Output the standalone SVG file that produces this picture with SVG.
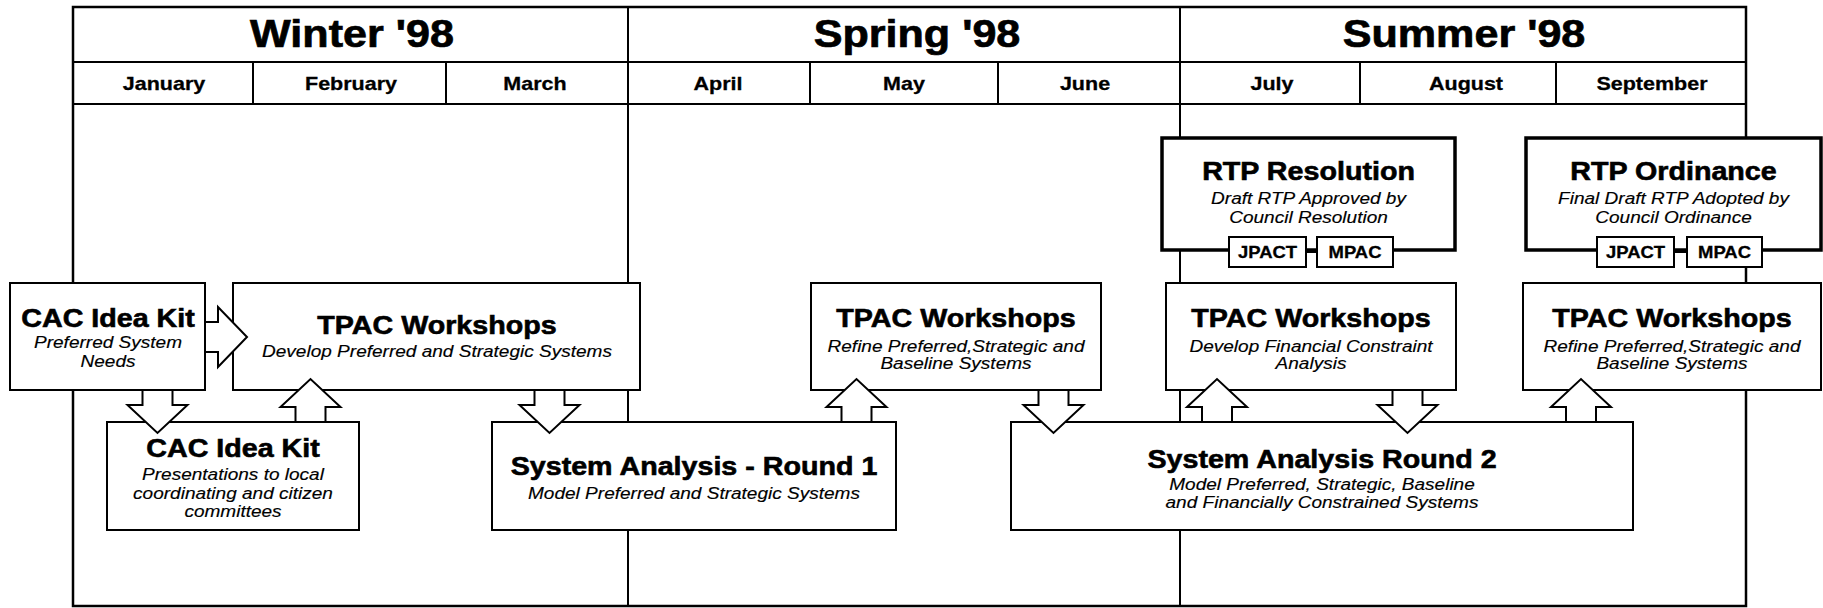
<svg xmlns="http://www.w3.org/2000/svg" width="1823" height="608" viewBox="0 0 1823 608">
<style>
text{font-family:"Liberation Sans",Arial,Helvetica,sans-serif;fill:#000;text-anchor:middle}
.season{font-size:38.5px;font-weight:bold;stroke:#000;stroke-width:0.7}
.month{font-size:19.2px;font-weight:bold;stroke:#000;stroke-width:0.3}
.title{font-size:25.6px;font-weight:bold;stroke:#000;stroke-width:0.6}
.sub{font-size:17px;font-style:italic;stroke:#000;stroke-width:0.15}
.tag{font-size:16.5px;font-weight:bold;stroke:#000;stroke-width:0.3}
.box{fill:#fff;stroke:#000;stroke-width:2}
.rtp{fill:#fff;stroke:#000;stroke-width:3.5}
.frame{fill:none;stroke:#000;stroke-width:2.5}
.line{stroke:#000;stroke-width:2;fill:none}
.arrow{fill:#fff;stroke:#000;stroke-width:2;stroke-linejoin:miter}
</style>
<rect x="0" y="0" width="1823" height="608" fill="#fff"/>
<g id="calendar">
<rect class="frame" x="73" y="7" width="1673" height="599"/>
<path class="line" d="M73,62H1746M73,104H1746M628,7V606M1180,7V606M253,62V104M446,62V104M810,62V104M998,62V104M1360,62V104M1556,62V104"/>
<g transform="translate(352 0) scale(1.12 1)"><text class="season" y="47">Winter '98</text></g>
<g transform="translate(917 0) scale(1.12 1)"><text class="season" y="47">Spring '98</text></g>
<g transform="translate(1464 0) scale(1.12 1)"><text class="season" y="47">Summer '98</text></g>
<g transform="translate(164 0) scale(1.12 1)"><text class="month" y="90">January</text></g>
<g transform="translate(351 0) scale(1.12 1)"><text class="month" y="90">February</text></g>
<g transform="translate(535 0) scale(1.12 1)"><text class="month" y="90">March</text></g>
<g transform="translate(718 0) scale(1.12 1)"><text class="month" y="90">April</text></g>
<g transform="translate(904 0) scale(1.12 1)"><text class="month" y="90">May</text></g>
<g transform="translate(1085 0) scale(1.12 1)"><text class="month" y="90">June</text></g>
<g transform="translate(1272 0) scale(1.12 1)"><text class="month" y="90">July</text></g>
<g transform="translate(1466 0) scale(1.12 1)"><text class="month" y="90">August</text></g>
<g transform="translate(1652 0) scale(1.12 1)"><text class="month" y="90">September</text></g>
</g>
<g id="cac-kit-needs">
<rect class="box" x="10" y="283" width="195" height="107"/>
<g transform="translate(108 0) scale(1.12 1)"><text class="title" y="327">CAC Idea Kit</text><text class="sub" y="348">Preferred System</text><text class="sub" y="367">Needs</text></g>
</g>
<g id="tpac-winter">
<rect class="box" x="233" y="283" width="407" height="107"/>
<g transform="translate(437 0) scale(1.12 1)"><text class="title" y="334">TPAC Workshops</text><text class="sub" y="357">Develop Preferred and Strategic Systems</text></g>
</g>
<g id="cac-kit-presentations">
<rect class="box" x="107" y="422" width="252" height="108"/>
<g transform="translate(233 0) scale(1.12 1)"><text class="title" y="457">CAC Idea Kit</text><text class="sub" y="480">Presentations to local</text><text class="sub" y="499">coordinating and citizen</text><text class="sub" y="517">committees</text></g>
</g>
<g id="system-analysis-1">
<rect class="box" x="492" y="422" width="404" height="108"/>
<g transform="translate(694 0) scale(1.12 1)"><text class="title" y="475">System Analysis - Round 1</text><text class="sub" y="499">Model Preferred and Strategic Systems</text></g>
</g>
<g id="tpac-spring">
<rect class="box" x="811" y="283" width="290" height="107"/>
<g transform="translate(956 0) scale(1.12 1)"><text class="title" y="327">TPAC Workshops</text><text class="sub" y="352">Refine Preferred,Strategic and</text><text class="sub" y="369">Baseline Systems</text></g>
</g>
<g id="rtp-resolution">
<rect class="rtp" x="1162" y="138" width="293" height="112"/>
<g transform="translate(1308.5 0) scale(1.12 1)"><text class="title" y="180">RTP Resolution</text><text class="sub" y="204">Draft RTP Approved by</text><text class="sub" y="223">Council Resolution</text></g>
<rect class="box" x="1229" y="237" width="77" height="30"/>
<rect class="box" x="1317" y="237" width="76" height="30"/>
<g transform="translate(1267.5 0) scale(1.12 1)"><text class="tag" y="258">JPACT</text></g>
<g transform="translate(1355 0) scale(1.12 1)"><text class="tag" y="258">MPAC</text></g>
</g>
<g id="tpac-summer">
<rect class="box" x="1166" y="283" width="290" height="107"/>
<g transform="translate(1311 0) scale(1.12 1)"><text class="title" y="327">TPAC Workshops</text><text class="sub" y="352">Develop Financial Constraint</text><text class="sub" y="369">Analysis</text></g>
</g>
<g id="rtp-ordinance">
<rect class="rtp" x="1526" y="138" width="295" height="112"/>
<g transform="translate(1673.5 0) scale(1.12 1)"><text class="title" y="180">RTP Ordinance</text><text class="sub" y="204">Final Draft RTP Adopted by</text><text class="sub" y="223">Council Ordinance</text></g>
<rect class="box" x="1597" y="237" width="77" height="30"/>
<rect class="box" x="1687" y="237" width="75" height="30"/>
<g transform="translate(1635.5 0) scale(1.12 1)"><text class="tag" y="258">JPACT</text></g>
<g transform="translate(1724.5 0) scale(1.12 1)"><text class="tag" y="258">MPAC</text></g>
</g>
<g id="tpac-summer-2">
<rect class="box" x="1523" y="283" width="298" height="107"/>
<g transform="translate(1672 0) scale(1.12 1)"><text class="title" y="327">TPAC Workshops</text><text class="sub" y="352">Refine Preferred,Strategic and</text><text class="sub" y="369">Baseline Systems</text></g>
</g>
<g id="system-analysis-2">
<rect class="box" x="1011" y="422" width="622" height="108"/>
<g transform="translate(1322 0) scale(1.12 1)"><text class="title" y="468">System Analysis Round 2</text><text class="sub" y="490">Model Preferred, Strategic, Baseline</text><text class="sub" y="508">and Financially Constrained Systems</text></g>
</g>
<g id="connectors">
<path class="line" d="M1306,252H1317M1674,252H1687"/>
<path class="arrow" d="M205,322H218V307L247,337L218,367V352H205Z"/>
<path class="arrow" d="M142.5,390V405H127.5L157.5,433L187.5,405H172.5V390Z"/>
<path class="arrow" d="M534.5,390V405H519.5L549.5,433L579.5,405H564.5V390Z"/>
<path class="arrow" d="M1038.5,390V405H1023.5L1053.5,433L1083.5,405H1068.5V390Z"/>
<path class="arrow" d="M1392.5,390V405H1377.5L1407.5,433L1437.5,405H1422.5V390Z"/>
<path class="arrow" d="M295.5,422V407H280.5L310.5,379L340.5,407H325.5V422Z"/>
<path class="arrow" d="M841.5,422V407H826.5L856.5,379L886.5,407H871.5V422Z"/>
<path class="arrow" d="M1202,422V407H1187L1217,379L1247,407H1232V422Z"/>
<path class="arrow" d="M1566,422V407H1551L1581,379L1611,407H1596V422Z"/>
</g>
</svg>
